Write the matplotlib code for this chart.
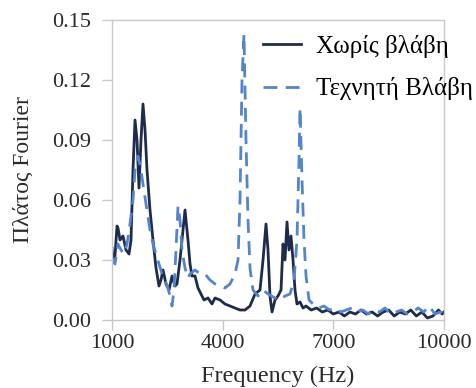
import matplotlib
matplotlib.use("Agg")
import matplotlib.pyplot as plt

plt.rcParams['font.family'] = ['Liberation Serif', 'DejaVu Serif']

# Fourier amplitude spectra, healthy vs. artificially damaged
freq_healthy = [1000, 1027, 1081, 1136, 1163, 1217, 1298, 1380, 1461, 1515, 1569, 1624,
                1678, 1732, 1786, 1840, 1895, 1949, 2030, 2111, 2193, 2274, 2328, 2383,
                2464, 2545, 2627, 2708, 2762, 2843, 2925, 2979, 3060, 3115, 3169, 3250,
                3331, 3413, 3494, 3603, 3711, 3792, 3928, 4063, 4199, 4334, 4470, 4605,
                4741, 4877, 5012, 5094, 5175, 5229, 5283, 5338, 5419, 5500, 5582, 5636,
                5690, 5744, 5798, 5853, 5907, 5961, 6015, 6097, 6178, 6260, 6400, 6550,
                6700, 6850, 7000, 7150, 7300, 7450, 7600, 7750, 7900, 8050, 8200, 8350,
                8500, 8650, 8800, 8950, 9100, 9250, 9400, 9550, 9700, 9850, 9950, 10000]
amp_healthy = [0.036, 0.029, 0.032, 0.047, 0.046, 0.040, 0.042, 0.035, 0.033, 0.040, 0.075, 0.100,
               0.090, 0.066, 0.090, 0.108, 0.095, 0.075, 0.055, 0.040, 0.026, 0.017, 0.020, 0.025,
               0.018, 0.015, 0.022, 0.017, 0.018, 0.030, 0.045, 0.055, 0.040, 0.028, 0.022, 0.022,
               0.016, 0.013, 0.010, 0.011, 0.008, 0.011, 0.010, 0.008, 0.007, 0.006, 0.005, 0.005,
               0.007, 0.013, 0.015, 0.030, 0.048, 0.035, 0.012, 0.004, 0.010, 0.012, 0.015, 0.038,
               0.030, 0.049, 0.035, 0.042, 0.030, 0.015, 0.008, 0.009, 0.006, 0.007, 0.005, 0.006,
               0.004, 0.005, 0.003, 0.004, 0.002, 0.004, 0.003, 0.005, 0.003, 0.004, 0.002, 0.004,
               0.005, 0.002, 0.004, 0.003, 0.005, 0.002, 0.004, 0.001, 0.002, 0.005, 0.003, 0.004]

freq_damaged = [1000, 1081, 1163, 1244, 1325, 1407, 1488, 1569, 1624, 1705, 1786, 1840,
                1922, 2030, 2111, 2193, 2274, 2356, 2437, 2518, 2572, 2627, 2681, 2735,
                2789, 2843, 2898, 2979, 3060, 3115, 3250, 3386, 3521, 3657, 3792, 3928,
                4063, 4199, 4334, 4416, 4470, 4524, 4578, 4632, 4687, 4741, 4822, 4958,
                5094, 5229, 5419, 5554, 5690, 5826, 5934, 6015, 6069, 6097, 6151, 6205,
                6260, 6341, 6450, 6600, 6750, 6900, 7050, 7200, 7350, 7500, 7650, 7800,
                7950, 8100, 8250, 8400, 8550, 8700, 8850, 9000, 9150, 9300, 9450, 9600,
                9750, 9900, 10000]
amp_damaged = [0.031, 0.028, 0.038, 0.035, 0.033, 0.038, 0.048, 0.060, 0.075, 0.082, 0.075, 0.068,
               0.058, 0.045, 0.038, 0.033, 0.028, 0.023, 0.020, 0.016, 0.012, 0.007, 0.015, 0.035,
               0.057, 0.050, 0.035, 0.026, 0.021, 0.023, 0.025, 0.023, 0.023, 0.020, 0.018, 0.017,
               0.016, 0.018, 0.023, 0.030, 0.060, 0.120, 0.143, 0.090, 0.050, 0.026, 0.015, 0.012,
               0.015, 0.013, 0.011, 0.010, 0.012, 0.013, 0.020, 0.040, 0.080, 0.106, 0.070, 0.040,
               0.022, 0.010, 0.008, 0.006, 0.007, 0.005, 0.006, 0.004, 0.005, 0.006, 0.004, 0.005,
               0.003, 0.005, 0.004, 0.006, 0.003, 0.004, 0.005, 0.003, 0.004, 0.006, 0.004, 0.007,
               0.003, 0.004, 0.002]

label_healthy = "Χωρίς βλάβη"
label_damaged = "Τεχνητή Βλάβη"
x_ticks = [1000, 4000, 7000, 10000]
y_ticks = [0.00, 0.03, 0.06, 0.09, 0.12, 0.15]

fig = plt.figure(figsize=(4.77, 3.88), dpi=100)
ax = fig.add_axes([112 / 477, 68 / 388, 332 / 477, 300 / 388])

ax.plot(freq_healthy, amp_healthy, color='#1d2b4c', lw=2.0, label=label_healthy)
ax.plot(freq_damaged, amp_damaged, color='#5285cc', lw=2.0, dashes=(5, 3), label=label_damaged)

ax.set_xlim(1000, 10000)
ax.set_ylim(0, 0.15)
ax.set_xticks(x_ticks)
ax.set_yticks(y_ticks)
ax.set_yticklabels([f"{v:.2f}" for v in y_ticks])
ax.tick_params(labelsize=16, colors='#c8c8c8', labelcolor='#2a2a2a', length=7, width=1)
ax.tick_params(axis='y', pad=8)
ax.tick_params(axis='x', pad=3)
for s in ax.spines.values():
    s.set_color('#c8c8c8')
    s.set_linewidth(1)

ax.set_xlabel("Frequency (Hz)", fontsize=17.5, color='#2a2a2a', labelpad=9)
ax.set_ylabel("Πλάτος Fourier", fontsize=17, color='#2a2a2a', labelpad=13)

ax.legend(loc='upper left', bbox_to_anchor=(0.425, 0.985), frameon=False, fontsize=18,
          handlelength=1.5, handletextpad=0.6, labelspacing=0.8, borderaxespad=0)

fig.savefig('out.png', dpi=100)
